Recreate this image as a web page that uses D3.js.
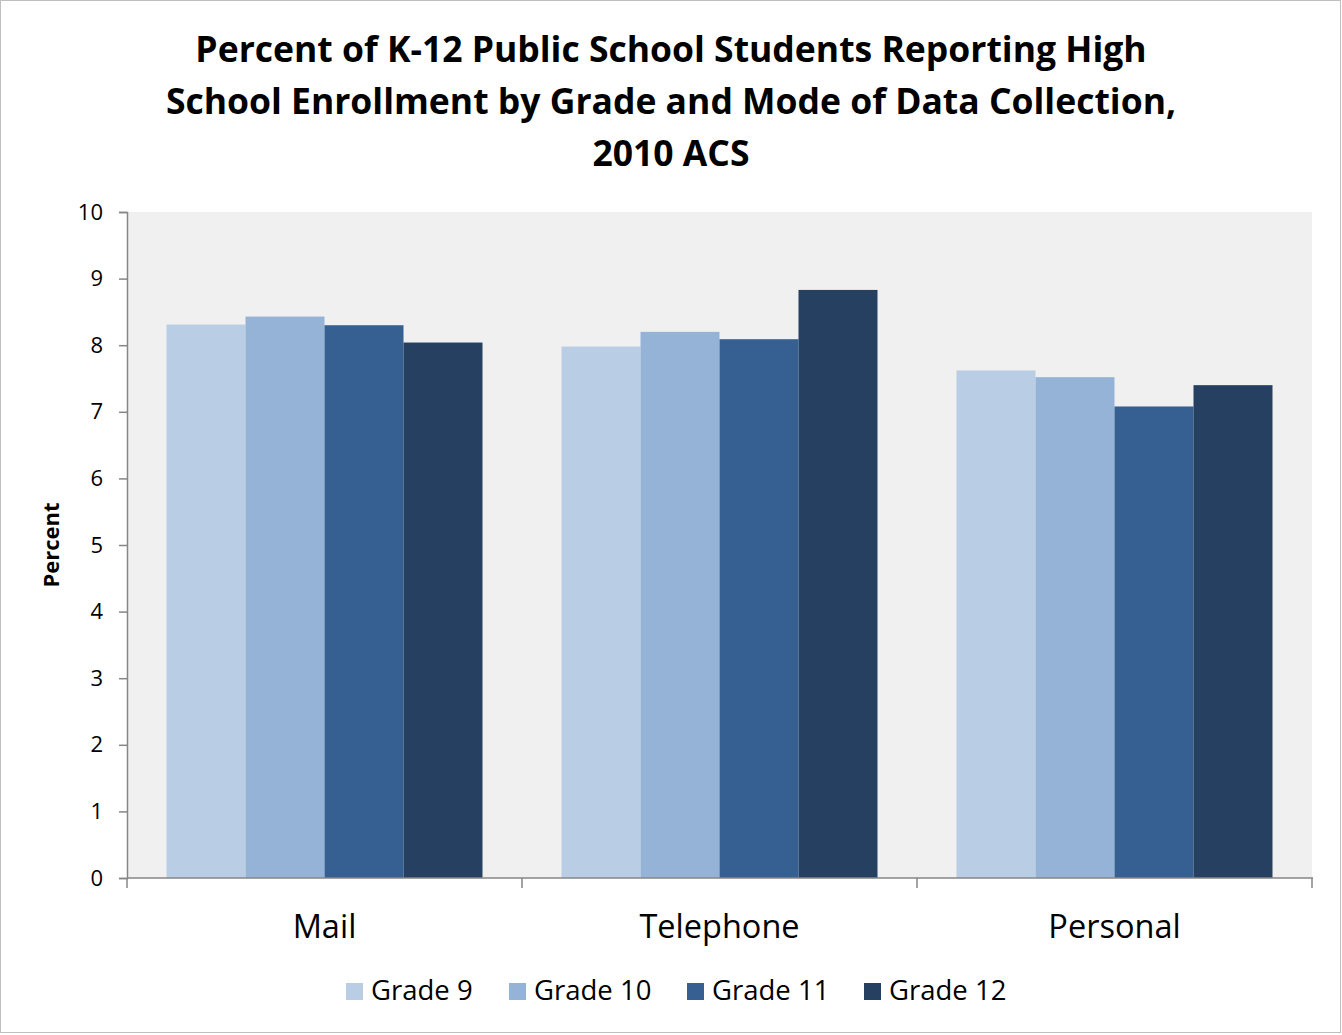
<!DOCTYPE html>
<html>
<head>
<meta charset="utf-8">
<script src="https://cdn.jsdelivr.net/npm/d3@7"></script>
<style>
  html, body { margin: 0; padding: 0; background: #ffffff; }
  svg { display: block; }
  text { font-family: "Open Sans", "Noto Sans", sans-serif; fill: #000; }
</style>
</head>
<body>
<svg id="chart" width="1342" height="1035"></svg>
<script>
// Survey response modes (x-axis groups)
const modes = ["Mail", "Telephone", "Personal"];
// Grades (bar series within each group)
const grades = ["Grade 9", "Grade 10", "Grade 11", "Grade 12"];
// Percent reporting high school enrollment, one array per grade, ordered as modes
const grade9  = [8.31, 7.98, 7.62];
const grade10 = [8.43, 8.20, 7.52];
const grade11 = [8.30, 8.09, 7.08];
const grade12 = [8.04, 8.83, 7.40];
const yTicks = [0, 1, 2, 3, 4, 5, 6, 7, 8, 9, 10];
const titleLines = [
  "Percent of K-12 Public School Students Reporting High",
  "School Enrollment by Grade and Mode of Data Collection,",
  "2010 ACS"
];

const seriesValues = [grade9, grade10, grade11, grade12];
const colors = ["#b9cde5", "#95b3d7", "#376092", "#254061"];

const svg = d3.select("#chart");
const W = 1342, H = 1035;

// outer chart border
svg.append("rect")
  .attr("x", 0.5).attr("y", 0.5)
  .attr("width", W - 2).attr("height", H - 3)
  .attr("fill", "#fff").attr("stroke", "#bfbfbf").attr("stroke-width", 1);

const plot = { left: 127, right: 1312, top: 212, bottom: 878 };

const x0 = d3.scaleBand().domain(modes).range([plot.left, plot.right]).paddingInner(0).paddingOuter(0);
// half a bar width of empty space on each side of a group
const x1 = d3.scaleBand().domain(grades).range([0, x0.bandwidth()]).paddingInner(0).paddingOuter(0.5);
const y = d3.scaleLinear().domain([0, 10]).range([plot.bottom, plot.top]);

// plot background
svg.append("rect")
  .attr("x", plot.left).attr("y", plot.top)
  .attr("width", plot.right - plot.left).attr("height", plot.bottom - plot.top)
  .attr("fill", "#f0f0f0");

// title
const title = svg.append("text")
  .attr("text-anchor", "middle")
  .style("font-weight", "700")
  .style("font-size", "35.5px");
titleLines.forEach((t, i) => {
  title.append("tspan").attr("x", 671).attr("y", 62 + i * 52).text(t);
});

// bars
const groups = svg.append("g").selectAll("g")
  .data(modes)
  .join("g")
  .attr("transform", d => `translate(${x0(d)},0)`);

groups.selectAll("rect")
  .data((m, mi) => grades.map((g, gi) => ({ grade: g, gi, value: seriesValues[gi][mi] })))
  .join("rect")
  .attr("x", d => x1(d.grade))
  .attr("width", x1.bandwidth())
  .attr("y", d => y(d.value))
  .attr("height", d => y(0) - y(d.value))
  .attr("fill", d => colors[d.gi]);

// y axis
const yAxis = svg.append("g")
  .attr("transform", `translate(${plot.left},0)`)
  .call(d3.axisLeft(y).tickValues(yTicks).tickSize(8).tickPadding(16).tickFormat(d3.format("d")));
yAxis.select(".domain").attr("stroke", "#868686").attr("stroke-width", 1.5);
yAxis.selectAll(".tick line").attr("stroke", "#868686").attr("stroke-width", 1.5);
yAxis.selectAll(".tick text")
  .style("font-size", "22px")
  .style("font-family", "'Open Sans', 'Noto Sans', sans-serif")
  .attr("fill", "#000");

// x axis: baseline with tick marks at group boundaries
const xAxisG = svg.append("g");
xAxisG.append("line")
  .attr("x1", plot.left).attr("x2", plot.right + 1)
  .attr("y1", plot.bottom).attr("y2", plot.bottom)
  .attr("stroke", "#868686").attr("stroke-width", 1.5);
const boundaries = modes.map(m => x0(m)).concat([x0(modes[modes.length - 1]) + x0.bandwidth()]);
xAxisG.selectAll("line.tick")
  .data(boundaries)
  .join("line")
  .attr("class", "tick")
  .attr("x1", d => d).attr("x2", d => d)
  .attr("y1", plot.bottom).attr("y2", plot.bottom + 10)
  .attr("stroke", "#868686").attr("stroke-width", 1.5);
xAxisG.selectAll("text")
  .data(modes)
  .join("text")
  .attr("x", d => x0(d) + x0.bandwidth() / 2)
  .attr("y", 938)
  .attr("text-anchor", "middle")
  .style("font-size", "32.5px")
  .text(d => d);

// y axis title
svg.append("text")
  .attr("transform", "translate(59,545) rotate(-90)")
  .attr("text-anchor", "middle")
  .style("font-weight", "700")
  .style("font-size", "22px")
  .text("Percent");

// legend
const legendItemsX = [346, 509, 687, 864];
const legend = svg.append("g");
grades.forEach((g, i) => {
  legend.append("rect")
    .attr("x", legendItemsX[i]).attr("y", 983)
    .attr("width", 17).attr("height", 17)
    .attr("fill", colors[i]);
  legend.append("text")
    .attr("x", legendItemsX[i] + 25).attr("y", 1000)
    .style("font-size", "27.5px")
    .text(g);
});
</script>
</body>
</html>
